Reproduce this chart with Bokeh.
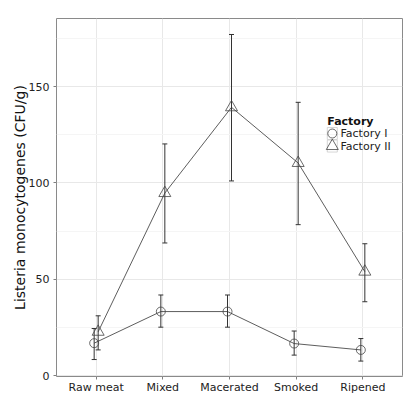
from bokeh.plotting import figure
from bokeh.models import (ColumnDataSource, FactorRange, Range1d, FixedTicker, Whisker, TeeHead)
from bokeh.transform import dodge
from bokeh.core.properties import value
from bokeh.embed import file_html
from bokeh.resources import INLINE

cats = ["Raw meat", "Mixed", "Macerated", "Smoked", "Ripened"]
f1_mean = [16.8, 33.2, 33.2, 16.6, 13.3]
f1_lo = [8.3, 25.1, 25.1, 10.6, 7.5]
f1_hi = [24.4, 41.8, 41.8, 23.1, 19.2]
f2_mean = [22.7, 94.7, 139.2, 110.3, 53.9]
f2_lo = [13.3, 68.8, 101.0, 78.3, 38.3]
f2_hi = [31.0, 120.2, 177.0, 141.8, 68.4]
series_names = ["Factory I", "Factory II"]
legend_title = "Factory"
y_ticks = [0, 50, 100, 150]
y_minor = [25, 75, 125, 175]

FONT = "DejaVu Sans"
DARK = "#333333"
MARK = "#444444"

p = figure(x_range=FactorRange(factors=cats, range_padding=0.038),
           y_range=Range1d(-0.5, 185.3),
           width=409, height=411, output_backend="svg", toolbar_location=None,
           min_border_left=56, min_border_top=18, min_border_right=7, min_border_bottom=35)

p.background_fill_color = "white"
p.border_fill_color = "white"
p.outline_line_color = "#8a8a8a"
p.outline_line_width = 1

p.yaxis.ticker = FixedTicker(ticks=y_ticks, minor_ticks=y_minor)
p.ygrid.grid_line_color = "#e8e8e8"
p.ygrid.minor_grid_line_color = "#f5f5f5"
p.xgrid.grid_line_color = "#e8e8e8"

for ax in (p.xaxis[0], p.yaxis[0]):
    ax.axis_line_color = None
    ax.major_tick_in = 0
    ax.major_tick_out = 3
    ax.minor_tick_in = 0
    ax.minor_tick_out = 0
    ax.major_tick_line_color = "#7f7f7f"
    ax.major_label_text_font = FONT
    ax.major_label_text_font_size = "11px"
    ax.major_label_text_color = "#222222"
p.xaxis.major_label_standoff = 1
p.yaxis.major_label_standoff = 4

p.yaxis.axis_label = "Listeria monocytogenes (CFU/g)"
p.yaxis.axis_label_text_font = FONT
p.yaxis.axis_label_text_font_size = "14px"
p.yaxis.axis_label_text_font_style = "normal"
p.yaxis.axis_label_text_color = "#111111"
p.yaxis.axis_label_standoff = -2

s1 = ColumnDataSource(dict(x=cats, y=f1_mean, lo=f1_lo, hi=f1_hi))
s2 = ColumnDataSource(dict(x=cats, y=f2_mean, lo=f2_lo, hi=f2_hi))

d1 = dodge("x", -0.03, range=p.x_range)
d2 = dodge("x", 0.03, range=p.x_range)

for src, d in ((s1, d1), (s2, d2)):
    w = Whisker(source=src, base=d, lower="lo", upper="hi", dimension="height",
                line_color=DARK, line_width=1,
                lower_head=TeeHead(size=5, line_color=DARK, line_width=1),
                upper_head=TeeHead(size=5, line_color=DARK, line_width=1))
    p.add_layout(w)

p.line(x=d1, y="y", source=s1, line_color=DARK, line_width=0.8)
p.line(x=d2, y="y", source=s2, line_color=DARK, line_width=0.8)
p.scatter(x=d1, y="y", source=s1, marker="circle", size=9,
          fill_color=None, line_color=MARK, line_width=0.8)
p.scatter(x=d2, y="y", source=s2, marker="triangle", size=12,
          fill_color=None, line_color=MARK, line_width=0.8)

# legend (drawn inside the panel, like the ggplot legend)
key_x = 4.042
text_x = 4.165
title_x = 3.967
rows_y = [125.6, 119.1]
title_y = 131.8
p.rect(x=[key_x, key_x], y=rows_y, width=10, height=12,
       width_units="screen", height_units="screen",
       fill_color=None, line_color="#cccccc", line_width=0.8)
p.scatter(x=[key_x], y=[rows_y[0]], marker="circle", size=9,
          fill_color=None, line_color=MARK, line_width=0.8)
p.scatter(x=[key_x], y=[rows_y[1]], marker="triangle", size=12,
          fill_color=None, line_color=MARK, line_width=0.8)
p.text(x=[text_x, text_x], y=rows_y, text=series_names,
       text_font=value(FONT), text_font_size="11px", text_color="#222222",
       text_baseline="middle", text_align="left")
p.text(x=[title_x], y=[title_y], text=[legend_title],
       text_font=value(FONT), text_font_size="11px", text_font_style="bold",
       text_color="#111111", text_baseline="middle", text_align="left")

open("out.html", "w").write(file_html(p, INLINE))
